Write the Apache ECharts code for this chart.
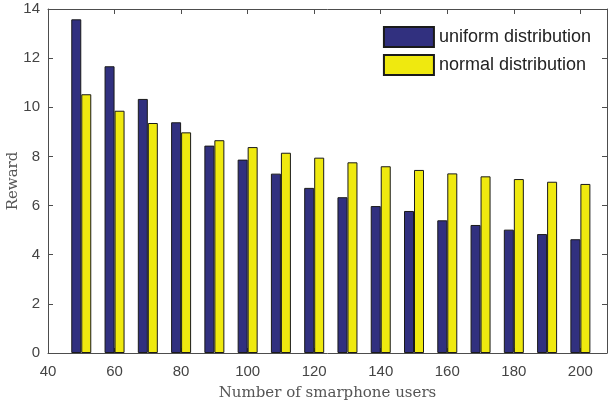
<!DOCTYPE html>
<html><head><meta charset="utf-8">
<script src="https://cdn.jsdelivr.net/npm/echarts@6/dist/echarts.min.js"></script>
<style>html,body{margin:0;padding:0;background:#fff}#c{width:608px;height:407px}</style>
</head><body><div id="c"></div>
<script>
const users = [50,60,70,80,90,100,110,120,130,140,150,160,170,180,190,200];
const uniformReward = [13.58,11.67,10.34,9.39,8.44,7.87,7.30,6.72,6.34,5.98,5.78,5.40,5.21,5.02,4.84,4.63];
const normalReward = [10.53,9.86,9.36,8.98,8.66,8.38,8.15,7.95,7.76,7.60,7.45,7.31,7.19,7.08,6.97,6.88];
const xTicks = [40,60,80,100,120,140,160,180,200];
const yTicks = [0,2,4,6,8,10,12,14];

const axisCol = '#4d4d4d';
const chart = echarts.init(document.getElementById('c'));
const pair = (xs, ys) => xs.map((x,i)=>[x, ys[i]]);
chart.setOption({
  animation:false,
  grid:{left:48,right:1,top:9,bottom:54,containLabel:false,outerBoundsMode:'none'},
  legend:{
    right:12, top:21, orient:'vertical', itemWidth:50, itemHeight:20, itemGap:6, icon:'rect',
    textStyle:{fontFamily:'Liberation Sans, Arial', fontSize:18, color:'#222'},
    data:['uniform distribution','normal distribution']
  },
  xAxis:[{
    type:'value', min:40, max:208, interval:20,
    name:'Number of smarphone users', nameLocation:'middle', nameGap:33, nameMoveOverlap:false,
    nameTextStyle:{fontFamily:'DejaVu Serif, Liberation Serif', fontSize:15, color:'#555'},
    axisLine:{show:true,lineStyle:{color:axisCol,width:1}},
    axisTick:{show:true,inside:true,length:5,lineStyle:{color:axisCol}},
    axisLabel:{fontFamily:'Liberation Sans, Arial', fontSize:15, color:'#444', margin:11,
      formatter:v=> xTicks.includes(v)?String(v):''},
    splitLine:{show:false}
  },{
    type:'value', position:'top', min:40, max:208, interval:20,
    axisLine:{show:true,onZero:false,lineStyle:{color:axisCol,width:1}},
    axisTick:{show:true,inside:true,length:5,lineStyle:{color:axisCol}},
    axisLabel:{show:false}, splitLine:{show:false}
  }],
  yAxis:[{
    type:'value', min:0, max:14, interval:2,
    name:'Reward', nameLocation:'middle', nameGap:27, nameMoveOverlap:false,
    nameTextStyle:{fontFamily:'DejaVu Serif, Liberation Serif', fontSize:15, color:'#555'},
    axisLine:{show:true,lineStyle:{color:axisCol,width:1}},
    axisTick:{show:true,inside:true,length:5,lineStyle:{color:axisCol}},
    axisLabel:{fontFamily:'Liberation Sans, Arial', fontSize:15, color:'#444', margin:8,
      formatter:v=> yTicks.includes(v)?String(v):''},
    splitLine:{show:false}
  },{
    type:'value', position:'right', min:0, max:14, interval:2,
    axisLine:{show:true,onZero:false,lineStyle:{color:axisCol,width:1}},
    axisTick:{show:true,inside:true,length:5,lineStyle:{color:axisCol}},
    axisLabel:{show:false}, splitLine:{show:false}
  }],
  series:[{
    name:'uniform distribution', type:'bar', barWidth:10, barGap:'0%',
    data:pair(users, uniformReward),
    itemStyle:{color:'#31307f', borderColor:'#1a1a1a', borderWidth:1}
  },{
    name:'normal distribution', type:'bar', barWidth:10, barGap:'0%',
    data:pair(users, normalReward),
    itemStyle:{color:'#efe90f', borderColor:'#1a1a1a', borderWidth:1}
  }]
});
</script></body></html>
